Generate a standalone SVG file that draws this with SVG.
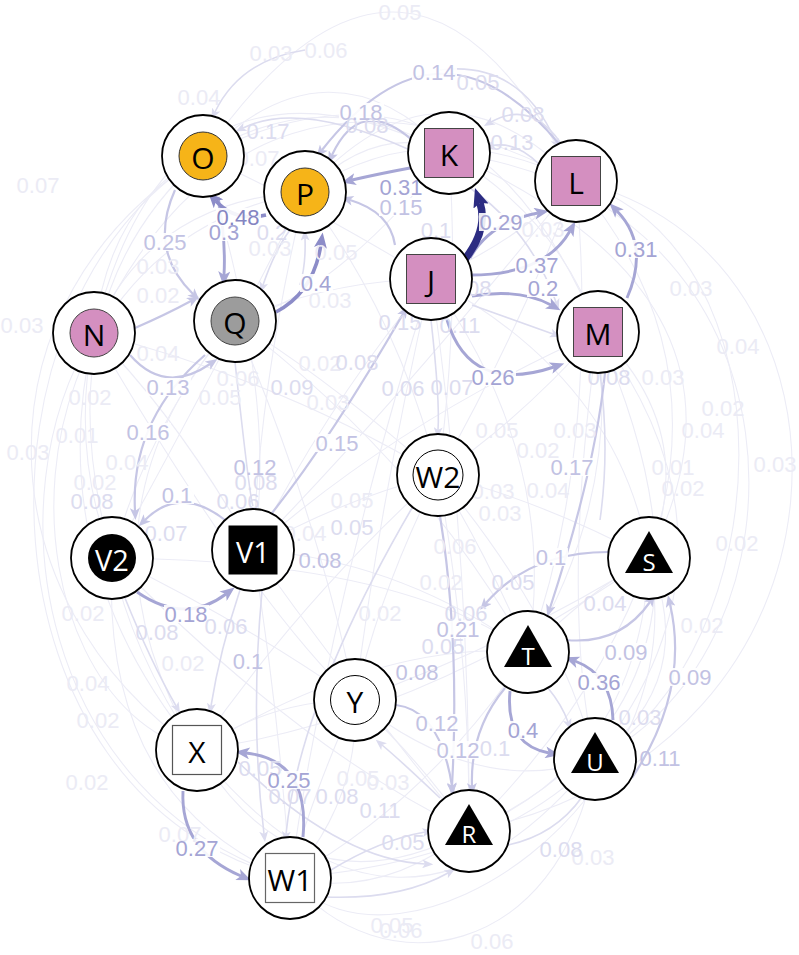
<svg xmlns="http://www.w3.org/2000/svg" width="799" height="955" viewBox="0 0 799 955">
<style>
.e0{fill:none;stroke:#ececf6;stroke-width:1.1}
.e1{fill:none;stroke:#dcdcef;stroke-width:1.6}
.e2{fill:none;stroke:#c6c6e5;stroke-width:2.2}
.e3{fill:none;stroke:#a6a6d5;stroke-width:2.9}
.e4{fill:none;stroke:#8c8cc8;stroke-width:3.6}
.ek{fill:none;stroke:#2c2c82;stroke-width:7.5}
.l{font-family:"Liberation Sans",Arial,sans-serif;font-size:22px;text-anchor:middle;dominant-baseline:central}
.t0{fill:#ebebf5}.t1{fill:#dcdcef}.t2{fill:#c2c2e3}.t3{fill:#a4a4d4}.t4{fill:#8585c2}
.bg{fill:#fff;fill-opacity:0.9}
.ring{fill:#fff;stroke:#000;stroke-width:1.8}
.nl{font-family:"Open Sans","DejaVu Sans",sans-serif;font-size:30px;text-anchor:middle;dominant-baseline:central;fill:#000}
.nw{font-family:"Open Sans","DejaVu Sans",sans-serif;font-size:29px;text-anchor:middle;dominant-baseline:central;fill:#fff}
.ns{font-family:"Open Sans","DejaVu Sans",sans-serif;font-size:24px;text-anchor:middle;dominant-baseline:central;fill:#fff}
.pink{fill:#d48fc0;stroke:#444;stroke-width:1}
.org{fill:#f6b418;stroke:#333;stroke-width:1}
</style>
<defs>
<marker id="m1" viewBox="0 0 12 10" refX="3" refY="5" markerWidth="11" markerHeight="9" markerUnits="userSpaceOnUse" orient="auto"><path d="M0,0 L12,5 L0,10 L3,5 Z" fill="#dcdcef"/></marker>
<marker id="m2" viewBox="0 0 12 10" refX="3" refY="5" markerWidth="13" markerHeight="10" markerUnits="userSpaceOnUse" orient="auto"><path d="M0,0 L12,5 L0,10 L3,5 Z" fill="#c6c6e5"/></marker>
<marker id="m3" viewBox="0 0 12 10" refX="3" refY="5" markerWidth="15" markerHeight="12" markerUnits="userSpaceOnUse" orient="auto"><path d="M0,0 L12,5 L0,10 L3,5 Z" fill="#a6a6d5"/></marker>
<marker id="m4" viewBox="0 0 12 10" refX="3" refY="5" markerWidth="16" markerHeight="13" markerUnits="userSpaceOnUse" orient="auto"><path d="M0,0 L12,5 L0,10 L3,5 Z" fill="#8c8cc8"/></marker>
<marker id="mk" viewBox="0 0 12 10" refX="2" refY="5" markerWidth="19" markerHeight="18" markerUnits="userSpaceOnUse" orient="auto"><path d="M0,0 L12,5 L0,10 L2,5 Z" fill="#2c2c82"/></marker>
</defs>
<rect width="799" height="955" fill="#fff"/>
<g id="connectors">
<g id="faint">
<path class="e0" d="M203,156 Q410,-144 576,181"/>
<path class="e0" d="M94,333 Q170,20 449,153"/>
<path class="e0" d="M203,156 Q330,30 449,153"/>
<path class="e0" d="M305,192 Q440,40 576,181"/>
<path class="e0" d="M449,153 Q320,80 203,156"/>
<path class="e0" d="M203,156 Q470,20 598,332"/>
<path class="e0" d="M576,181 Q430,110 305,192"/>
<path class="e0" d="M449,153 Q380,120 305,192"/>
<path class="e0" d="M431,279 Q300,200 203,156"/>
<path class="e0" d="M94,333 Q250,10 576,181"/>
<path class="e0" d="M203,156 C-30,300 -20,600 197,750"/>
<path class="e0" d="M94,333 C-10,500 40,800 290,878"/>
<path class="e0" d="M203,156 Q40,300 112,558"/>
<path class="e0" d="M94,333 Q40,560 197,750"/>
<path class="e0" d="M235,321 Q60,520 197,750"/>
<path class="e0" d="M94,333 Q70,450 112,558"/>
<path class="e0" d="M203,156 Q110,200 94,333"/>
<path class="e0" d="M305,192 Q150,200 94,333"/>
<path class="e0" d="M112,558 Q100,800 290,878"/>
<path class="e0" d="M197,750 Q130,650 112,558"/>
<path class="e0" d="M235,321 Q150,420 112,558"/>
<path class="e0" d="M203,156 C-40,300 -30,800 290,878"/>
<path class="e0" d="M305,192 C-20,250 0,700 197,750"/>
<path class="e0" d="M576,181 C800,250 780,650 595,759"/>
<path class="e0" d="M576,181 C880,250 880,750 469,831"/>
<path class="e0" d="M598,332 Q700,430 649,558"/>
<path class="e0" d="M598,332 Q760,550 595,759"/>
<path class="e0" d="M449,153 Q780,300 649,558"/>
<path class="e0" d="M576,181 Q720,350 649,558"/>
<path class="e0" d="M598,332 Q760,700 469,831"/>
<path class="e0" d="M449,153 C820,200 820,650 595,759"/>
<path class="e0" d="M431,279 Q620,380 649,558"/>
<path class="e0" d="M649,558 Q700,680 595,759"/>
<path class="e0" d="M649,558 Q640,760 469,831"/>
<path class="e0" d="M598,332 Q620,500 528,652"/>
<path class="e0" d="M290,878 C380,990 560,960 595,759"/>
<path class="e0" d="M290,878 C400,1000 700,800 649,558"/>
<path class="e0" d="M197,750 Q300,920 469,831"/>
<path class="e0" d="M290,878 Q380,900 469,831"/>
<path class="e0" d="M197,750 Q400,1000 595,759"/>
<path class="e0" d="M355,700 Q480,800 595,759"/>
<path class="e0" d="M290,878 Q430,800 528,652"/>
<path class="e0" d="M235,321 Q330,380 438,475"/>
<path class="e0" d="M431,279 Q330,400 253,550"/>
<path class="e0" d="M431,279 Q380,500 355,700"/>
<path class="e0" d="M431,279 Q470,550 469,831"/>
<path class="e0" d="M305,192 Q260,380 253,550"/>
<path class="e0" d="M305,192 Q400,320 438,475"/>
<path class="e0" d="M235,321 Q320,520 355,700"/>
<path class="e0" d="M235,321 Q420,460 528,652"/>
<path class="e0" d="M253,550 Q340,500 438,475"/>
<path class="e0" d="M253,550 Q400,560 528,652"/>
<path class="e0" d="M253,550 Q360,700 469,831"/>
<path class="e0" d="M253,550 Q280,720 290,878"/>
<path class="e0" d="M112,558 Q240,620 355,700"/>
<path class="e0" d="M112,558 Q300,750 469,831"/>
<path class="e0" d="M438,475 Q380,590 355,700"/>
<path class="e0" d="M438,475 Q470,650 469,831"/>
<path class="e0" d="M438,475 Q540,500 649,558"/>
<path class="e0" d="M438,475 Q490,560 528,652"/>
<path class="e0" d="M438,475 Q300,600 197,750"/>
<path class="e0" d="M355,700 Q420,760 469,831"/>
<path class="e0" d="M355,700 Q270,700 197,750"/>
<path class="e0" d="M355,700 Q310,800 290,878"/>
<path class="e0" d="M649,558 Q590,590 528,652"/>
<path class="e0" d="M598,332 Q520,420 438,475"/>
<path class="e0" d="M598,332 Q400,420 253,550"/>
<path class="e0" d="M449,153 Q460,320 438,475"/>
<path class="e0" d="M576,181 Q520,240 431,279"/>
<path class="e0" d="M576,181 Q520,330 438,475"/>
<path class="e0" d="M94,333 Q180,420 253,550"/>
<path class="e0" d="M94,333 Q280,380 438,475"/>
<path class="e0" d="M235,321 Q330,280 431,279"/>
<path class="e0" d="M197,750 Q380,640 528,652"/>
<path class="e0" d="M290,878 Q360,800 355,700"/>
<path class="e0" d="M469,831 Q600,700 649,558"/>
<path class="e0" d="M431,279 Q560,460 528,652"/>
<path class="e0" d="M449,153 Q560,220 598,332"/>
<path class="e0" d="M431,279 Q330,600 290,878"/>
<path class="e0" d="M305,192 Q200,400 112,558"/>
<path class="e0" d="M576,181 Q600,450 528,652"/>
<path class="e0" d="M598,332 Q560,600 595,759"/>
<path class="e0" d="M203,156 Q280,400 253,550"/>
<path class="e0" d="M94,333 Q250,600 355,700"/>
<path class="e0" d="M112,558 Q400,560 528,652"/>
<path class="e0" d="M197,750 Q420,720 649,558"/>
<path class="e0" d="M290,878 Q500,860 595,759"/>
<path class="e0" d="M355,700 Q520,640 649,558"/>
<path class="e0" d="M449,153 Q330,300 235,321"/>
<path class="e0" d="M576,181 Q400,400 253,550"/>
<path class="e0" d="M438,475 Q560,620 595,759"/>
</g>
<g id="light">
<path class="e1" d="M410,150 Q300,100 243,128" marker-end="url(#m1)"/>
<path class="e1" d="M560,142 Q530,100 491,122" marker-end="url(#m1)"/>
<path class="e1" d="M540,165 Q515,140 491,146" marker-end="url(#m1)"/>
<path class="e1" d="M290,230 Q275,250 263,285" marker-end="url(#m1)"/>
<path class="e1" d="M300,285 Q306,265 305,238" marker-end="url(#m1)"/>
<path class="e1" d="M470,188 Q530,230 556,302" marker-end="url(#m1)"/>
<path class="e1" d="M472,305 Q520,322 553,334" marker-end="url(#m1)"/>
<path class="e1" d="M548,688 Q562,705 568,722" marker-end="url(#m1)"/>
<path class="e1" d="M125,598 Q150,660 176,706" marker-end="url(#m1)"/>
<path class="e1" d="M240,590 Q220,650 211,706" marker-end="url(#m1)"/>
<path class="e1" d="M262,591 Q250,720 264,834" marker-end="url(#m1)"/>
<path class="e1" d="M412,508 Q300,700 286,834" marker-end="url(#m1)"/>
<path class="e1" d="M440,798 Q400,760 382,745" marker-end="url(#m1)"/>
<path class="e1" d="M331,870 Q380,840 425,832" marker-end="url(#m1)"/>
<path class="e1" d="M238,762 Q340,860 425,864" marker-end="url(#m1)"/>
<path class="e1" d="M325,897 Q400,900 448,873" marker-end="url(#m1)"/>
<path class="e1" d="M508,845 Q555,835 582,797" marker-end="url(#m1)"/>
<path class="e1" d="M431,320 Q440,400 438,430" marker-end="url(#m1)"/>
<path class="e1" d="M440,70 Q520,60 556,142" marker-end="url(#m1)"/>
<path class="e1" d="M305,50 Q240,60 215,112" marker-end="url(#m1)"/>
<path class="e1" d="M235,362 Q250,500 253,506"/>
<path class="e1" d="M600,373 Q610,450 600,520"/>
</g>
<g id="medium">
<path class="e2" d="M560,145 Q440,0 322,150" marker-end="url(#m2)"/>
<path class="e2" d="M412,140 Q360,95 332,155" marker-end="url(#m2)"/>
<path class="e2" d="M175,190 Q148,250 193,294" marker-end="url(#m2)"/>
<path class="e2" d="M205,355 Q130,420 135,511" marker-end="url(#m2)"/>
<path class="e2" d="M130,355 Q165,395 210,364" marker-end="url(#m2)"/>
<path class="e2" d="M225,520 Q180,485 145,520" marker-end="url(#m2)"/>
<path class="e2" d="M440,516 Q460,640 452,786" marker-end="url(#m2)"/>
<path class="e2" d="M608,552 Q530,552 486,603" marker-end="url(#m2)"/>
<path class="e2" d="M605,373 Q595,470 550,608" marker-end="url(#m2)"/>
<path class="e2" d="M396,705 Q440,710 452,786" marker-end="url(#m2)"/>
<path class="e2" d="M505,688 Q470,730 472,786" marker-end="url(#m2)"/>
<path class="e2" d="M395,245 Q390,212 350,200" marker-end="url(#m2)"/>
<path class="e2" d="M566,640 Q620,645 650,602" marker-end="url(#m2)"/>
<path class="e2" d="M632,778 Q690,690 670,604" marker-end="url(#m2)"/>
<path class="e2" d="M272,513 Q330,440 403,314" marker-end="url(#m2)"/>
<path class="e2" d="M135,328 Q165,315 191,301" marker-end="url(#m2)"/>
</g>
<g id="strong">
<path class="e3" d="M613,720 Q612,675 575,661" marker-end="url(#m3)"/>
<path class="e3" d="M510,691 Q505,745 549,753" marker-end="url(#m3)"/>
<path class="e3" d="M470,258 Q490,222 538,213" marker-end="url(#m3)"/>
<path class="e3" d="M470,275 Q545,275 570,231" marker-end="url(#m3)"/>
<path class="e3" d="M472,296 Q520,288 551,305" marker-end="url(#m3)"/>
<path class="e3" d="M627,298 Q650,245 617,211" marker-end="url(#m3)"/>
<path class="e3" d="M447,320 Q470,395 554,367" marker-end="url(#m3)"/>
<path class="e3" d="M183,791 Q180,850 241,876" marker-end="url(#m3)"/>
<path class="e3" d="M303,837 Q310,760 246,753" marker-end="url(#m3)"/>
<path class="e3" d="M137,592 Q185,625 226,594" marker-end="url(#m3)"/>
<path class="e3" d="M218,197 Q226,240 224,275" marker-end="url(#m3)"/>
<path class="e3" d="M410,168 Q378,174 352,180" marker-end="url(#m3)"/>
<path class="e4" d="M266,215 Q235,222 216,201" marker-end="url(#m4)"/>
<path class="e4" d="M276,312 Q314,292 321,244" marker-end="url(#m4)"/>
<path class="ek" d="M462,263 Q489,230 480,203" marker-end="url(#mk)"/>
</g>
</g>
<g id="label-bg">
<rect class="bg" x="216" y="208" width="45" height="18"/>
<rect class="bg" x="300" y="274" width="33" height="18"/>
<rect class="bg" x="577" y="673" width="45" height="18"/>
<rect class="bg" x="507" y="721" width="33" height="18"/>
<rect class="bg" x="479" y="213" width="45" height="18"/>
<rect class="bg" x="515" y="256" width="45" height="18"/>
<rect class="bg" x="527" y="279" width="33" height="18"/>
<rect class="bg" x="614" y="240" width="45" height="18"/>
<rect class="bg" x="471" y="368" width="45" height="18"/>
<rect class="bg" x="175" y="839" width="45" height="18"/>
<rect class="bg" x="267" y="771" width="45" height="18"/>
<rect class="bg" x="164" y="605" width="45" height="18"/>
<rect class="bg" x="208" y="223" width="33" height="18"/>
<rect class="bg" x="379" y="178" width="45" height="18"/>
<rect class="bg" x="412" y="63" width="45" height="18"/>
<rect class="bg" x="339" y="103" width="45" height="18"/>
<rect class="bg" x="143" y="233" width="45" height="18"/>
<rect class="bg" x="146" y="378" width="45" height="18"/>
<rect class="bg" x="126" y="423" width="45" height="18"/>
<rect class="bg" x="315" y="434" width="45" height="18"/>
<rect class="bg" x="161" y="486" width="33" height="18"/>
<rect class="bg" x="436" y="620" width="45" height="18"/>
<rect class="bg" x="535" y="548" width="33" height="18"/>
<rect class="bg" x="550" y="458" width="45" height="18"/>
<rect class="bg" x="415" y="714" width="45" height="18"/>
<rect class="bg" x="436" y="741" width="45" height="18"/>
<rect class="bg" x="379" y="198" width="45" height="18"/>
<rect class="bg" x="604" y="643" width="45" height="18"/>
<rect class="bg" x="668" y="668" width="45" height="18"/>
</g>
<g id="labels">
<text class="l t0" x="400" y="12">0.05</text>
<text class="l t0" x="271" y="53">0.03</text>
<text class="l t0" x="326" y="50">0.06</text>
<text class="l t0" x="199" y="97">0.04</text>
<text class="l t0" x="38" y="185">0.07</text>
<text class="l t0" x="22" y="325">0.03</text>
<text class="l t0" x="28" y="452">0.03</text>
<text class="l t0" x="90" y="397">0.02</text>
<text class="l t0" x="127" y="462">0.04</text>
<text class="l t0" x="95" y="482">0.02</text>
<text class="l t0" x="83" y="613">0.02</text>
<text class="l t0" x="88" y="683">0.04</text>
<text class="l t0" x="98" y="720">0.02</text>
<text class="l t0" x="87" y="782">0.02</text>
<text class="l t0" x="691" y="288">0.03</text>
<text class="l t0" x="738" y="346">0.04</text>
<text class="l t0" x="723" y="408">0.02</text>
<text class="l t0" x="703" y="430">0.04</text>
<text class="l t0" x="775" y="464">0.03</text>
<text class="l t0" x="737" y="543">0.02</text>
<text class="l t0" x="702" y="625">0.02</text>
<text class="l t0" x="593" y="857">0.03</text>
<text class="l t0" x="392" y="925">0.05</text>
<text class="l t0" x="401" y="930">0.06</text>
<text class="l t0" x="492" y="941">0.06</text>
<text class="l t0" x="543" y="229">0.03</text>
<text class="l t0" x="158" y="295">0.02</text>
<text class="l t0" x="158" y="353">0.04</text>
<text class="l t0" x="220" y="397">0.05</text>
<text class="l t0" x="238" y="378">0.06</text>
<text class="l t0" x="320" y="363">0.02</text>
<text class="l t0" x="328" y="402">0.03</text>
<text class="l t0" x="493" y="491">0.03</text>
<text class="l t0" x="548" y="490">0.04</text>
<text class="l t0" x="500" y="513">0.03</text>
<text class="l t0" x="455" y="546">0.06</text>
<text class="l t0" x="441" y="582">0.02</text>
<text class="l t0" x="673" y="467">0.01</text>
<text class="l t0" x="683" y="488">0.02</text>
<text class="l t0" x="183" y="663">0.02</text>
<text class="l t0" x="388" y="782">0.03</text>
<text class="l t0" x="358" y="778">0.05</text>
<text class="l t0" x="180" y="834">0.07</text>
<text class="l t0" x="663" y="377">0.03</text>
<text class="l t0" x="497" y="430">0.05</text>
<text class="l t0" x="575" y="430">0.03</text>
<text class="l t0" x="538" y="450">0.02</text>
<text class="l t0" x="270" y="248">0.03</text>
<text class="l t0" x="336" y="252">0.05</text>
<text class="l t0" x="258" y="158">0.07</text>
<text class="l t0" x="305" y="533">0.04</text>
<text class="l t0" x="352" y="500">0.05</text>
<text class="l t0" x="380" y="613">0.02</text>
<text class="l t0" x="158" y="266">0.03</text>
<text class="l t0" x="330" y="300">0.03</text>
<text class="l t0" x="77" y="435">0.01</text>
<text class="l t1" x="268" y="131">0.17</text>
<text class="l t1" x="523" y="114">0.08</text>
<text class="l t1" x="512" y="142">0.13</text>
<text class="l t1" x="272" y="232">0.2</text>
<text class="l t1" x="478" y="82">0.05</text>
<text class="l t1" x="367" y="125">0.08</text>
<text class="l t1" x="166" y="533">0.07</text>
<text class="l t1" x="238" y="501">0.06</text>
<text class="l t1" x="256" y="482">0.08</text>
<text class="l t1" x="92" y="501">0.08</text>
<text class="l t1" x="292" y="387">0.09</text>
<text class="l t1" x="403" y="388">0.06</text>
<text class="l t1" x="452" y="387">0.07</text>
<text class="l t1" x="400" y="322">0.15</text>
<text class="l t1" x="609" y="377">0.08</text>
<text class="l t1" x="357" y="362">0.08</text>
<text class="l t1" x="260" y="768">0.05</text>
<text class="l t1" x="290" y="796">0.07</text>
<text class="l t1" x="337" y="796">0.08</text>
<text class="l t1" x="380" y="810">0.11</text>
<text class="l t1" x="403" y="842">0.05</text>
<text class="l t1" x="561" y="849">0.08</text>
<text class="l t1" x="226" y="626">0.06</text>
<text class="l t1" x="157" y="632">0.08</text>
<text class="l t1" x="513" y="582">0.05</text>
<text class="l t1" x="466" y="613">0.06</text>
<text class="l t1" x="443" y="646">0.05</text>
<text class="l t1" x="605" y="603">0.04</text>
<text class="l t1" x="436" y="230">0.1</text>
<text class="l t1" x="495" y="748">0.1</text>
<text class="l t1" x="640" y="717">0.03</text>
<text class="l t1" x="470" y="288">0.08</text>
<text class="l t1" x="460" y="325">0.11</text>
<text class="l t1" x="352" y="527">0.05</text>
<text class="l t2" x="434" y="72">0.14</text>
<text class="l t2" x="361" y="112">0.18</text>
<text class="l t2" x="165" y="242">0.25</text>
<text class="l t2" x="168" y="387">0.13</text>
<text class="l t2" x="148" y="432">0.16</text>
<text class="l t2" x="337" y="443">0.15</text>
<text class="l t2" x="177" y="495">0.1</text>
<text class="l t2" x="458" y="629">0.21</text>
<text class="l t2" x="551" y="557">0.1</text>
<text class="l t2" x="572" y="467">0.17</text>
<text class="l t2" x="437" y="723">0.12</text>
<text class="l t2" x="458" y="750">0.12</text>
<text class="l t2" x="401" y="207">0.15</text>
<text class="l t2" x="626" y="652">0.09</text>
<text class="l t2" x="690" y="677">0.09</text>
<text class="l t2" x="660" y="758">0.11</text>
<text class="l t2" x="248" y="661">0.1</text>
<text class="l t2" x="417" y="672">0.08</text>
<text class="l t2" x="255" y="467">0.12</text>
<text class="l t2" x="320" y="560">0.08</text>
<text class="l t3" x="316" y="283">0.4</text>
<text class="l t3" x="599" y="682">0.36</text>
<text class="l t3" x="523" y="730">0.4</text>
<text class="l t3" x="501" y="222">0.29</text>
<text class="l t3" x="537" y="265">0.37</text>
<text class="l t3" x="543" y="288">0.2</text>
<text class="l t3" x="636" y="249">0.31</text>
<text class="l t3" x="493" y="377">0.26</text>
<text class="l t3" x="197" y="848">0.27</text>
<text class="l t3" x="289" y="780">0.25</text>
<text class="l t3" x="186" y="614">0.18</text>
<text class="l t3" x="224" y="232">0.3</text>
<text class="l t3" x="401" y="187">0.31</text>
<text class="l t4" x="238" y="217">0.48</text>
</g>
<g id="O"><circle class="ring" cx="203" cy="156" r="41"/><circle class="org" cx="203" cy="156" r="24"/><text class="nl" x="203" y="157">O</text></g>
<g id="P"><circle class="ring" cx="305" cy="192" r="41"/><circle class="org" cx="305" cy="192" r="24"/><text class="nl" x="305" y="193">P</text></g>
<g id="K"><circle class="ring" cx="449" cy="153" r="41"/><rect class="pink" x="424.5" y="128.5" width="49" height="49"/><text class="nl" x="449" y="154">K</text></g>
<g id="L"><circle class="ring" cx="576" cy="181" r="41"/><rect class="pink" x="551.5" y="156.5" width="49" height="49"/><text class="nl" x="576" y="182">L</text></g>
<g id="J"><circle class="ring" cx="431" cy="279" r="41"/><rect class="pink" x="406.5" y="254.5" width="49" height="49"/><text class="nl" x="431" y="280">J</text></g>
<g id="M"><circle class="ring" cx="598" cy="332" r="41"/><rect class="pink" x="573.5" y="307.5" width="49" height="49"/><text class="nl" x="598" y="333">M</text></g>
<g id="N"><circle class="ring" cx="94" cy="333" r="41"/><circle class="pink" cx="94" cy="333" r="24"/><text class="nl" x="94" y="334">N</text></g>
<g id="Q"><circle class="ring" cx="235" cy="321" r="41"/><circle cx="235" cy="321" r="24" fill="#9c9c9c" stroke="#444" stroke-width="1"/><text class="nl" x="235" y="322">Q</text></g>
<g id="W2"><circle class="ring" cx="438" cy="475" r="41"/><circle cx="438" cy="475" r="25" fill="#fff" stroke="#000" stroke-width="1"/><text class="nl" x="438" y="476">W2</text></g>
<g id="V2"><circle class="ring" cx="112" cy="558" r="41"/><circle cx="112" cy="558" r="24" fill="#000"/><text class="nw" x="112" y="559">V2</text></g>
<g id="V1"><circle class="ring" cx="253" cy="550" r="41"/><rect x="228.5" y="525.5" width="49" height="49" fill="#000"/><text class="nw" x="253" y="551">V1</text></g>
<g id="S"><circle class="ring" cx="649" cy="558" r="41"/><polygon points="649,531 673,573 625,573" fill="#000"/><text class="ns" x="649" y="561">S</text></g>
<g id="T"><circle class="ring" cx="528" cy="652" r="41"/><polygon points="528,625 552,667 504,667" fill="#000"/><text class="ns" x="528" y="655">T</text></g>
<g id="U"><circle class="ring" cx="595" cy="759" r="41"/><polygon points="595,732 619,773 571,773" fill="#000"/><text class="ns" x="595" y="761">U</text></g>
<g id="R"><circle class="ring" cx="469" cy="831" r="41"/><polygon points="469,804 493,845 445,845" fill="#000"/><text class="ns" x="469" y="833">R</text></g>
<g id="Y"><circle class="ring" cx="355" cy="700" r="41"/><circle cx="355" cy="700" r="24.5" fill="#fff" stroke="#000" stroke-width="1"/><text class="nl" x="355" y="701">Y</text></g>
<g id="X"><circle class="ring" cx="197" cy="750" r="41"/><rect x="172.5" y="725.5" width="49" height="49" fill="#fff" stroke="#555" stroke-width="1.2"/><text class="nl" x="197" y="751">X</text></g>
<g id="W1"><circle class="ring" cx="290" cy="878" r="41"/><rect x="265.5" y="853.5" width="49" height="49" fill="#fff" stroke="#666" stroke-width="1.2"/><text class="nl" x="290" y="879">W1</text></g>
</svg>
